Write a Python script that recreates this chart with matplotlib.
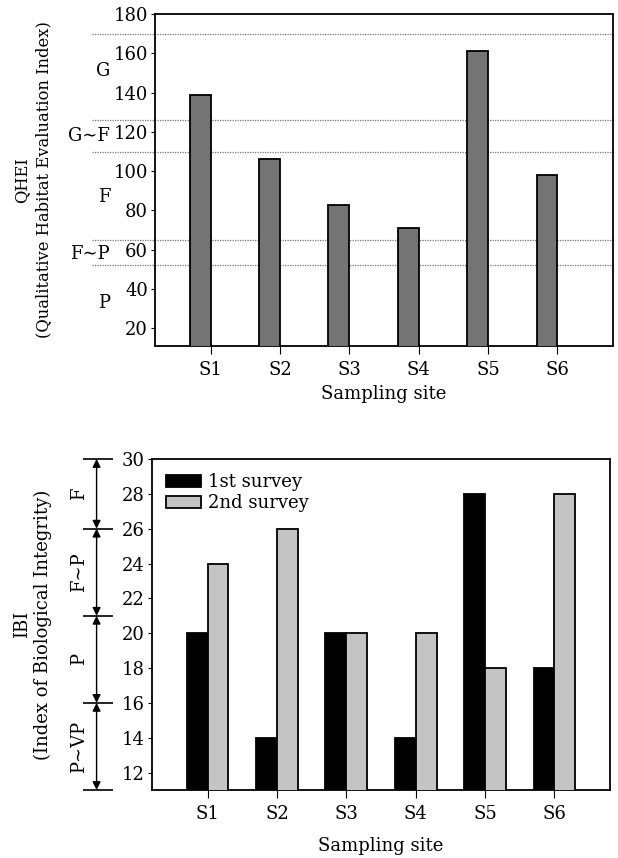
import numpy as np
import matplotlib
matplotlib.use('Agg')
import matplotlib.pyplot as plt

plt.rcParams['font.family'] = ['DejaVu Serif']
plt.rcParams['font.size'] = 13

# Data
sites = ['S1', 'S2', 'S3', 'S4', 'S5', 'S6']
qhei = [139, 106, 83, 71, 161, 98]
qhei_lines = [170, 126, 110, 65, 52]
qhei_classes = ['G', 'G∼F', 'F', 'F∼P', 'P']
qhei_class_pos = [151, 118, 87, 58, 33]

ibi_1st = [20, 14, 20, 14, 28, 18]
ibi_2nd = [24, 26, 20, 20, 18, 28]
ibi_bounds = [30, 26, 21, 16, 11]
ibi_classes = ['F', 'F∼P', 'P', 'P∼VP']

x = np.arange(1, len(sites) + 1)
w = 0.3
fs = 13

fig = plt.figure(figsize=(6.18, 8.58), dpi=100)
W, H = 618, 858

# Top chart: QHEI
ax1 = fig.add_axes([155 / W, 1 - 346 / H, 458 / W, 332 / H])
ax1.bar(x - w, qhei, width=w, align='edge', color='#747474', edgecolor='black', linewidth=1.3, zorder=3)
ax1.set_xlim(0.2, 6.8)
ax1.set_ylim(11, 180)
ax1.set_yticks(range(20, 181, 20))
ax1.set_xticks(x)
ax1.set_xticklabels(sites, fontsize=fs)
ax1.tick_params(axis='y', direction='out', length=3, labelsize=fs, pad=2)
ax1.tick_params(axis='x', direction='out', length=6, pad=5)
ax1.hlines(qhei_lines, -0.1376, 1, transform=ax1.get_yaxis_transform(), colors='#777777',
           linestyles=(0, (1, 1)), linewidth=0.9, clip_on=False, zorder=1)
for lab, yv in zip(qhei_classes, qhei_class_pos):
    ax1.text(-0.098, yv, lab, transform=ax1.get_yaxis_transform(), ha='right', va='center', fontsize=fs)
ax1.set_xlabel('Sampling site', fontsize=fs, labelpad=4)
ax1.text(-0.267, 0.5, 'QHEI\n(Qualitative Habitat Evaluation Index)', transform=ax1.transAxes,
         rotation=90, ha='center', va='center', fontsize=11.8, linespacing=1.3)
for s in ax1.spines.values():
    s.set_linewidth(1.3)

# Bottom chart: IBI
ax2 = fig.add_axes([152 / W, 1 - 790 / H, 458 / W, 331 / H])
ax2.bar(x - w, ibi_1st, width=w, align='edge', color='black', edgecolor='black', linewidth=1.3,
        label='1st survey', zorder=3)
ax2.bar(x, ibi_2nd, width=w, align='edge', color='#c4c4c4', edgecolor='black', linewidth=1.3,
        label='2nd survey', zorder=3)
ax2.set_xlim(0.2, 6.8)
ax2.set_ylim(11, 30)
ax2.set_yticks(range(12, 31, 2))
ax2.set_xticks(x)
ax2.set_xticklabels(sites, fontsize=fs)
ax2.tick_params(axis='y', direction='out', length=3, labelsize=fs, pad=2)
ax2.tick_params(axis='x', direction='out', length=6, pad=5)
ax2.set_xlabel('Sampling site', fontsize=fs, labelpad=10)
ax2.legend(loc='upper left', frameon=False, fontsize=fs, handlelength=1.9, handleheight=0.7,
           handletextpad=0.4, labelspacing=0.15, borderaxespad=0.4)
ax2.text(-0.261, 0.5, 'IBI\n(Index of Biological Integrity)', transform=ax2.transAxes,
         rotation=90, ha='center', va='center', fontsize=fs, linespacing=1.25)
for s in ax2.spines.values():
    s.set_linewidth(1.3)

tr = ax2.get_yaxis_transform()
ax2.hlines(ibi_bounds, -0.151, -0.085, transform=tr, colors='black', linewidth=1.2, clip_on=False)
for i, lab in enumerate(ibi_classes):
    hi, lo = ibi_bounds[i], ibi_bounds[i + 1]
    ax2.annotate('', xy=(-0.121, lo), xytext=(-0.121, hi), xycoords=tr, textcoords=tr,
                 arrowprops=dict(arrowstyle='<|-|>', color='black', lw=1.0,
                                 mutation_scale=12, shrinkA=0, shrinkB=0),
                 annotation_clip=False)
    ax2.text(-0.16, (hi + lo) / 2, lab, transform=tr, rotation=90, ha='center', va='center',
             fontsize=fs)

fig.savefig('out.png', dpi=100)
